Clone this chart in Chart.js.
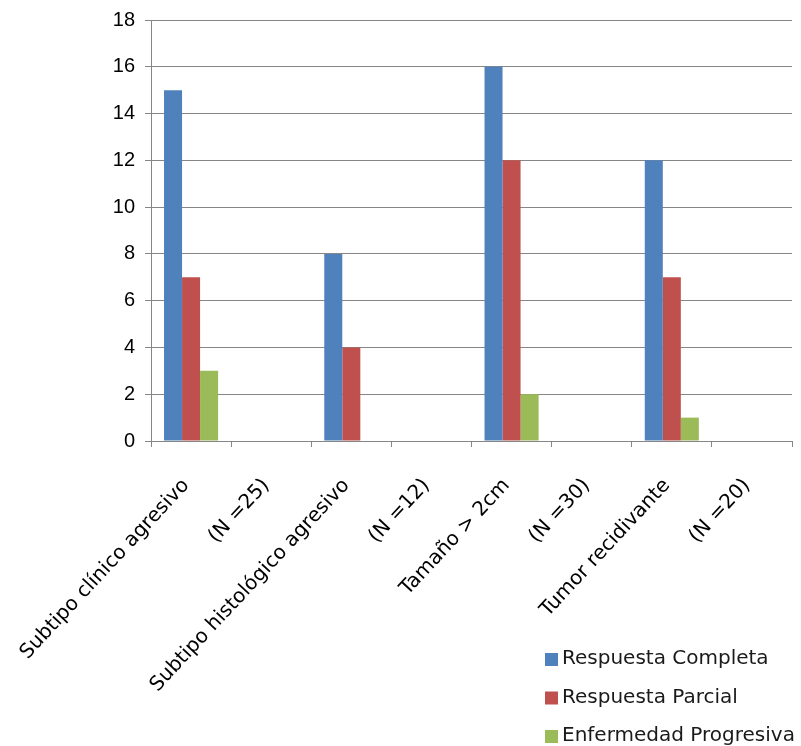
<!DOCTYPE html>
<html>
<head>
<meta charset="utf-8">
<script src="https://cdn.jsdelivr.net/npm/chart.js@4"></script>
<style>
  html, body { margin: 0; padding: 0; background: #fff; }
  #wrap { width: 801px; height: 746px; position: relative; }
</style>
</head>
<body>
<div id="wrap"><canvas id="out" width="801" height="746"></canvas></div>
<script>
// categories (every other slot holds the sample size label)
const categories = [
  "Subtipo clínico agresivo", "(N =25)",
  "Subtipo histológico agresivo", "(N =12)",
  "Tamaño > 2cm", "(N =30)",
  "Tumor recidivante", "(N =20)"
];
const seriesNames = ["Respuesta Completa", "Respuesta Parcial", "Enfermedad Progresiva"];
const completa  = [15, null, 8, null, 16, null, 12, null];
const parcial   = [7,  null, 4, null, 12, null, 7,  null];
const progresiva = [3, null, 0, null, 2,  null, 1,  null];
const colors = ["#4F81BD", "#C0504D", "#9BBB59"];

const gridColor = "#868686";

// legend drawn at the bottom right, one entry per line
const sideLegend = {
  id: "sideLegend",
  afterDraw(chart) {
    const ctx = chart.ctx;
    ctx.save();
    ctx.font = "20px 'DejaVu Sans'";
    ctx.textBaseline = "middle";
    chart.data.datasets.forEach(function(ds, i) {
      const y = 659 + i * 38.5;
      ctx.fillStyle = ds.backgroundColor;
      ctx.fillRect(545, y - 6, 13, 13);
      ctx.fillStyle = "#1a1a1a";
      ctx.fillText(ds.label, 562, y);
    });
    ctx.restore();
  }
};

const canvasCtx = document.getElementById("out").getContext("2d");
const chart = new Chart(canvasCtx, {
  type: "bar",
  data: {
    labels: categories,
    datasets: [
      { label: seriesNames[0], data: completa, backgroundColor: colors[0] },
      { label: seriesNames[1], data: parcial, backgroundColor: colors[1] },
      { label: seriesNames[2], data: progresiva, backgroundColor: colors[2] }
    ]
  },
  options: {
    responsive: false,
    animation: false,
    layout: { padding: { top: 20, right: 9, left: 0, bottom: 0 } },
    datasets: {
      bar: { categoryPercentage: 0.675, barPercentage: 1, skipNull: false }
    },
    plugins: {
      legend: { display: false },
      tooltip: { enabled: false }
    },
    scales: {
      x: {
        grid: {
          offset: true,
          drawOnChartArea: false,
          drawTicks: true,
          tickLength: 6,
          color: gridColor
        },
        border: { display: true, color: gridColor },
        ticks: {
          autoSkip: false,
          maxRotation: 47,
          minRotation: 47,
          padding: 27,
          labelOffset: -5,
          color: "#000",
          font: { family: "'DejaVu Sans'", size: 20 }
        },
        afterFit(scale) {
          scale.height = 305;
          scale.paddingLeft = 0;
          scale.paddingRight = 0;
        }
      },
      y: {
        min: 0,
        max: 18,
        ticks: {
          stepSize: 2,
          color: "#000",
          padding: 10,
          font: { family: "'Liberation Sans', Arial", size: 20 }
        },
        grid: { color: gridColor, tickLength: 6 },
        border: { display: true, color: gridColor },
        afterFit(scale) {
          scale.width = 151;
          scale.paddingTop = 0;
          scale.paddingBottom = 0;
        }
      }
    }
  },
  plugins: [sideLegend]
});
</script>
</body>
</html>
